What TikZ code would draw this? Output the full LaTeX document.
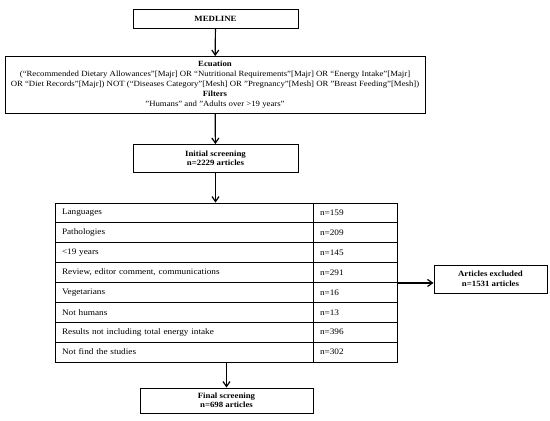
\documentclass[tikz,border=0pt]{standalone}
\usepackage{fontspec}
\setmainfont{Liberation Serif}[FakeStretch=1.1]
\usetikzlibrary{arrows.meta}
\begin{document}
\begin{tikzpicture}[x=1pt,y=-1pt,
  box/.style={draw, line width=0.9pt, inner sep=0pt, align=center,
    font=\fontsize{8}{9.5}\selectfont\bfseries},
  ecubox/.style={draw, line width=0.9pt, inner sep=0pt, align=center,
    font=\fontsize{7.95}{10}\selectfont},
  lcell/.style={draw, line width=0.9pt, inner xsep=7pt, inner ysep=0pt,
    text width=244pt, minimum height=19.875pt, align=left,
    font=\fontsize{8.4}{10}\selectfont},
  vcell/.style={draw, line width=0.9pt, inner xsep=7pt, inner ysep=0pt,
    text width=70pt, minimum height=19.875pt, align=left,
    font=\fontsize{8.4}{10}\selectfont},
  arr/.style={-{Straight Barb[length=5pt,width=7pt]}, line width=1.2pt}]
\useasboundingbox (0,0) rectangle (550,421);

\node[box, minimum width=165pt, minimum height=19pt] (med) at (215.5,18.5) {MEDLINE};

\node[ecubox, minimum width=420pt, minimum height=57pt] (ecu) at (215,85)
  {\textbf{Ecuation}\\
   (“Recommended Dietary Allowances”[Majr] OR “Nutritional Requirements”[Majr] OR “Energy Intake”[Majr]\\
   OR “Diet Records”[Majr]) NOT (“Diseases Category”[Mesh] OR "Pregnancy"[Mesh] OR "Breast Feeding"[Mesh])\\
   \textbf{Filters}\\
   "Humans" and "Adults over >19 years"};

\node[box, minimum width=165pt, minimum height=28pt] (ini) at (215.5,158.5)
  {Initial screening\\n=2229 articles};

\foreach \t/\n [count=\i] in {Languages/159, Pathologies/209, {<19 years}/145,
    {Review, editor comment, communications}/291, Vegetarians/16,
    {Not humans}/13, {Results not including total energy intake}/396,
    {Not find the studies}/302}{
  \node[lcell] (l\i) at (184,{203+19.875*(\i-0.5)}) {\t};
  \node[vcell] (v\i) at (355,{203+19.875*(\i-0.5)}) {n=\n};
}

\node[box, minimum width=113pt, minimum height=28pt] (exc) at (490.5,279)
  {Articles excluded\\n=1531 articles};

\node[box, minimum width=173pt, minimum height=25pt] (fin) at (226.5,400.5)
  {Final screening\\n=698 articles};

\draw[arr] (med) -- (ecu);
\draw[arr] (ecu) -- (ini);
\draw[arr] (ini.south) -- (ini.south |- l1.north);
\draw[arr] (fin.north |- l8.south) -- (fin.north);
\draw[arr] (v4.south east) -- (v4.south east -| exc.west);
\end{tikzpicture}
\end{document}
